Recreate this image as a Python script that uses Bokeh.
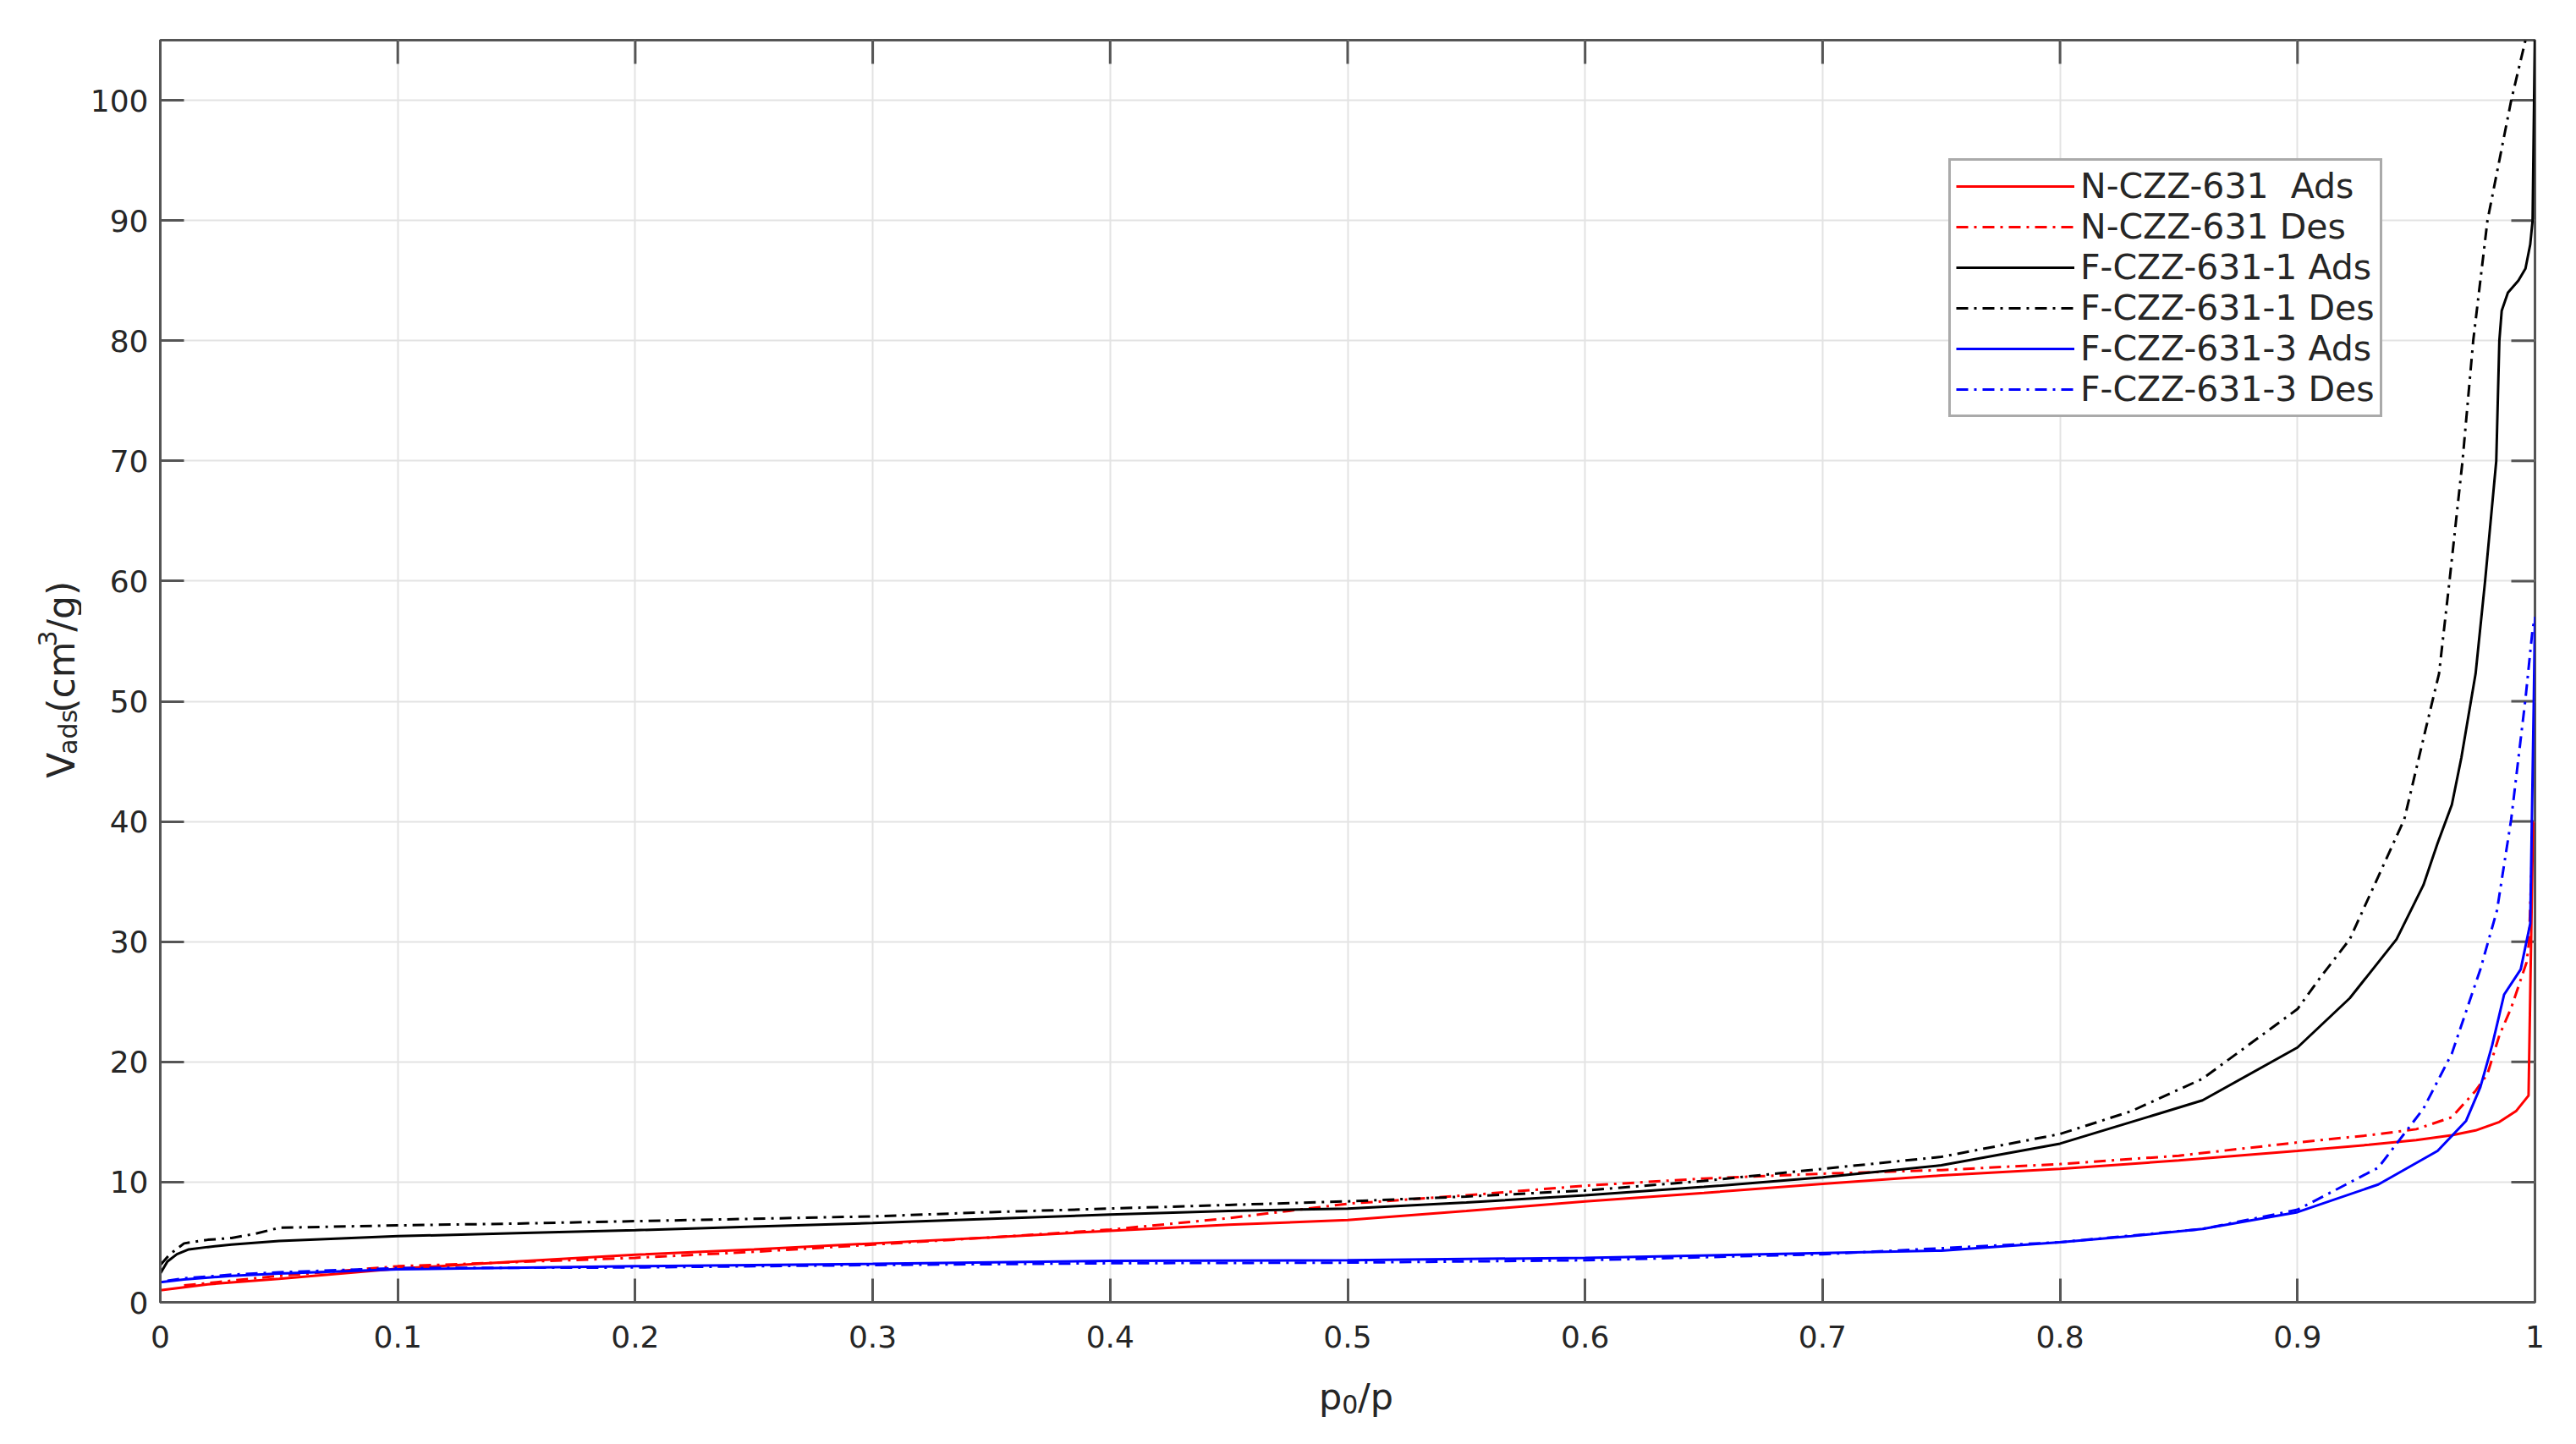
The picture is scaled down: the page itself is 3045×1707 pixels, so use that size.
import math
from bokeh.plotting import figure
from bokeh.models import Range1d, FixedTicker
from bokeh.layouts import row, column
from bokeh.core.properties import value
from bokeh.embed import file_html
from bokeh.resources import INLINE

# ---------------- data ----------------
n_ads_x = [0, 0.02, 0.05, 0.1, 0.15, 0.2, 0.25, 0.3, 0.35, 0.4, 0.45, 0.5, 0.55, 0.6,
           0.65, 0.7, 0.75, 0.8, 0.85, 0.9, 0.93, 0.95, 0.965, 0.975, 0.985, 0.992,
           0.9973, 0.9992]
n_ads_y = [1.0, 1.5, 1.95, 2.8, 3.4, 3.95, 4.4, 4.9, 5.4, 5.95, 6.45, 6.85, 7.6, 8.4,
           9.1, 9.85, 10.55, 11.1, 11.8, 12.6, 13.1, 13.5, 13.9, 14.3, 15.0, 15.9,
           17.2, 40.0]

n_des_x = [0.01, 0.02, 0.05, 0.1, 0.15, 0.2, 0.25, 0.3, 0.35, 0.4, 0.45, 0.5, 0.55, 0.6,
           0.65, 0.7, 0.75, 0.8, 0.85, 0.9, 0.93, 0.95, 0.965, 0.975, 0.98, 0.985, 0.99,
           0.9965, 0.9975, 0.9992]
n_des_y = [1.4, 1.6, 2.2, 3.0, 3.35, 3.7, 4.2, 4.8, 5.4, 6.05, 7.0, 8.2, 8.9, 9.7,
           10.3, 10.7, 11.0, 11.5, 12.2, 13.3, 13.9, 14.4, 15.4, 17.6, 19.0, 22.2, 24.5,
           28.3, 30.0, 40.0]

f1_ads_x = [0, 0.003, 0.007, 0.012, 0.02, 0.03, 0.05, 0.1, 0.15, 0.2, 0.25, 0.3, 0.35,
            0.4, 0.45, 0.5, 0.55, 0.6, 0.65, 0.7, 0.75, 0.8, 0.83, 0.86, 0.9, 0.922,
            0.9417, 0.953, 0.959, 0.965, 0.969, 0.975, 0.979, 0.9837, 0.985, 0.986,
            0.9886, 0.993, 0.996, 0.998, 0.999, 1.0]
f1_ads_y = [2.4, 3.4, 4.0, 4.4, 4.6, 4.8, 5.1, 5.5, 5.75, 6.0, 6.3, 6.6, 6.95, 7.3,
            7.6, 7.8, 8.3, 8.9, 9.6, 10.4, 11.4, 13.2, 15.0, 16.8, 21.2, 25.3, 30.2,
            34.7, 38.2, 41.4, 45.3, 52.3, 60.0, 70.0, 80.0, 82.5, 84.0, 85.0, 86.0,
            88.0, 90.0, 106.0]

f1_des_x = [0, 0.004, 0.01, 0.02, 0.03, 0.04, 0.05, 0.1, 0.15, 0.2, 0.25, 0.3, 0.35,
            0.4, 0.45, 0.5, 0.55, 0.6, 0.65, 0.7, 0.75, 0.8, 0.83, 0.86, 0.9, 0.9095,
            0.922, 0.945, 0.954, 0.9596, 0.964, 0.9695, 0.974, 0.98, 0.99, 0.996]
f1_des_y = [3.1, 4.0, 4.9, 5.2, 5.35, 5.7, 6.2, 6.4, 6.55, 6.75, 6.95, 7.15, 7.5,
            7.8, 8.1, 8.4, 8.8, 9.3, 10.1, 11.1, 12.1, 14.0, 15.9, 18.6, 24.4, 27.0,
            30.2, 40.2, 47.7, 52.3, 60.0, 70.0, 80.0, 90.0, 100.0, 105.0]

f3_ads_x = [0, 0.01, 0.03, 0.05, 0.1, 0.2, 0.3, 0.4, 0.5, 0.6, 0.7, 0.75, 0.8, 0.83,
            0.86, 0.9, 0.934, 0.959, 0.971, 0.977, 0.982, 0.987, 0.994, 0.998, 0.9995, 1.0]
f3_ads_y = [1.67, 1.9, 2.2, 2.4, 2.75, 3.0, 3.2, 3.45, 3.5, 3.7, 4.1, 4.3, 5.0, 5.5,
            6.1, 7.5, 9.8, 12.6, 15.1, 17.9, 21.4, 25.6, 27.7, 31.5, 50.0, 57.0]

f3_des_x = [0.003, 0.01, 0.03, 0.05, 0.1, 0.2, 0.3, 0.4, 0.5, 0.6, 0.7, 0.8, 0.86,
            0.9, 0.934, 0.953, 0.965, 0.977, 0.984, 0.99, 0.996, 0.999, 1.0]
f3_des_y = [1.8, 2.0, 2.3, 2.5, 2.85, 2.9, 3.1, 3.25, 3.3, 3.5, 4.0, 5.0, 6.1,
            7.7, 11.2, 16.1, 20.7, 27.7, 32.6, 40.2, 50.2, 56.0, 57.0]

series_labels = ["N-CZZ-631  Ads", "N-CZZ-631 Des", "F-CZZ-631-1 Ads",
                 "F-CZZ-631-1 Des", "F-CZZ-631-3 Ads", "F-CZZ-631-3 Des"]
series_colors = ["#ff0000", "#ff0000", "#000000", "#000000", "#0000ff", "#0000ff"]

x_ticks = [0, 0.1, 0.2, 0.3, 0.4, 0.5, 0.6, 0.7, 0.8, 0.9, 1.0]
x_tick_labels = ["0", "0.1", "0.2", "0.3", "0.4", "0.5", "0.6", "0.7", "0.8", "0.9", "1"]
y_ticks = [0, 10, 20, 30, 40, 50, 60, 70, 80, 90, 100]

# axis titles, split into normal / subscript / superscript pieces
x_title_parts = ["p", "0", "/p"]                 # p0/p  (0 is a subscript)
y_title_parts = ["V", "ads", "(cm", "3", "/g)"]  # Vads(cm3/g)

X_MIN, X_MAX = 0, 1
Y_MIN, Y_MAX = 0, 105

# ---------------- layout sizes ----------------
FONT = "DejaVu Sans"
AXC = "#555555"
TXT = "#262626"

TOTAL_W, TOTAL_H = 3029, 1691
YT_W = 96                 # strip holding the y title
BL, BR, BT, BB = 93, 33, 47, 69
MW = TOTAL_W - YT_W
MH = 47 + 1492 + BB
XT_H = TOTAL_H - MH       # strip holding the x title
FW = MW - BL - BR
FH = MH - BT - BB
TICK_PX = 28

# ---------------- main figure ----------------
p = figure(width=MW, height=MH, output_backend="svg", toolbar_location=None,
           x_range=Range1d(X_MIN, X_MAX), y_range=Range1d(Y_MIN, Y_MAX),
           min_border_left=BL, min_border_right=BR, min_border_top=BT,
           min_border_bottom=BB, x_axis_label=None, y_axis_label=None)
p.background_fill_color = "white"
p.border_fill_color = "white"
p.outline_line_color = AXC
p.outline_line_width = 3

for ax, ticks in ((p.xaxis[0], x_ticks), (p.yaxis[0], y_ticks)):
    ax.ticker = FixedTicker(ticks=ticks)
    ax.major_tick_in = TICK_PX
    ax.major_tick_out = 0
    ax.minor_tick_in = 0
    ax.minor_tick_out = 0
    ax.axis_line_color = AXC
    ax.axis_line_width = 3
    ax.major_tick_line_color = AXC
    ax.major_tick_line_width = 3
    ax.major_label_text_font = FONT
    ax.major_label_text_font_size = "36px"
    ax.major_label_text_color = TXT

p.xaxis[0].major_label_overrides = {t: s for t, s in zip(x_ticks, x_tick_labels)}
p.xaxis[0].major_label_standoff = 27
p.yaxis[0].major_label_standoff = 14

p.xgrid.ticker = FixedTicker(ticks=x_ticks)
p.ygrid.ticker = FixedTicker(ticks=y_ticks)
for g in (p.xgrid[0], p.ygrid[0]):
    g.grid_line_color = "#e3e3e3"
    g.grid_line_width = 2

# inward tick marks on the top and right edges of the box
dy_tick = TICK_PX / FH * (Y_MAX - Y_MIN)
dx_tick = TICK_PX / FW * (X_MAX - X_MIN)
p.segment(x0=x_ticks, y0=[Y_MAX] * len(x_ticks), x1=x_ticks,
          y1=[Y_MAX - dy_tick] * len(x_ticks), line_color=AXC, line_width=3)
p.segment(x0=[X_MAX] * len(y_ticks), y0=y_ticks, x1=[X_MAX - dx_tick] * len(y_ticks),
          y1=y_ticks, line_color=AXC, line_width=3)

# ---------------- curves ----------------
DASHDOT = "14 7 3 7"
data = [(n_ads_x, n_ads_y), (n_des_x, n_des_y), (f1_ads_x, f1_ads_y),
        (f1_des_x, f1_des_y), (f3_ads_x, f3_ads_y), (f3_des_x, f3_des_y)]
for i, ((xs, ys), name, col) in enumerate(zip(data, series_labels, series_colors)):
    dash = "solid" if i % 2 == 0 else DASHDOT
    p.line(xs, ys, line_color=col, line_width=3, line_dash=dash, legend_label=name)

# ---------------- legend ----------------
lg = p.legend[0]
lg.location = (2114, 1046)
lg.label_text_font = FONT
lg.label_text_font_size = "41px"
lg.label_text_color = TXT
lg.label_height = 20
lg.glyph_width = 140
lg.glyph_height = 20
lg.label_standoff = 7
lg.spacing = 0
lg.padding = 6
lg.margin = 0
lg.border_line_color = AXC
lg.border_line_width = 3
lg.background_fill_color = "white"
lg.background_fill_alpha = 1.0


def text_strip(w, h):
    f = figure(width=w, height=h, output_backend="svg", toolbar_location=None,
               x_range=Range1d(0, w), y_range=Range1d(0, h),
               x_axis_location=None, y_axis_location=None, min_border=0,
               min_border_left=0, min_border_right=0, min_border_top=0,
               min_border_bottom=0)
    f.outline_line_color = None
    f.grid.visible = False
    f.background_fill_color = "white"
    f.border_fill_color = "white"
    return f


def put(f, text, x, y, size, angle=0.0):
    f.text(x=[x], y=[y], text=[text], angle=angle, text_font=value(FONT),
           text_font_size=value(f"{size}px"), text_color=TXT,
           text_align="left", text_baseline="alphabetic")


# ---------------- y title strip ----------------
FY, SY = 44, 30
yt = text_strip(YT_W, MH)
A = math.pi / 2
widths = [0.684 * FY, 1.769 * SY, 1.914 * FY, 0.636 * SY, 1.362 * FY]
shifts = [0, 8, 0, -17, 0]
sizes = [FY, SY, FY, SY, FY]
center_y = MH - (BT + FH / 2) - 24
ypos = center_y - sum(widths) / 2
base_x = 72
for t, w, s, sz in zip(y_title_parts, widths, shifts, sizes):
    put(yt, t, base_x + s, ypos, sz, A)
    ypos += w

# ---------------- x title strip ----------------
FX, SX = 43, 30
xt = text_strip(TOTAL_W, XT_H)
xw = [0.635 * FX, 0.636 * SX, 0.972 * FX]
xs_shift = [0, -9, 0]
xsz = [FX, SX, FX]
cx = YT_W + BL + FW / 2 + 10
xpos = cx - sum(xw) / 2
base_y = 41
for t, w, s, sz in zip(x_title_parts, xw, xs_shift, xsz):
    put(xt, t, xpos, base_y + s, sz)
    xpos += w

layout = column(row(yt, p, spacing=0), xt, spacing=0)
open("out.html", "w").write(file_html(layout, INLINE))
